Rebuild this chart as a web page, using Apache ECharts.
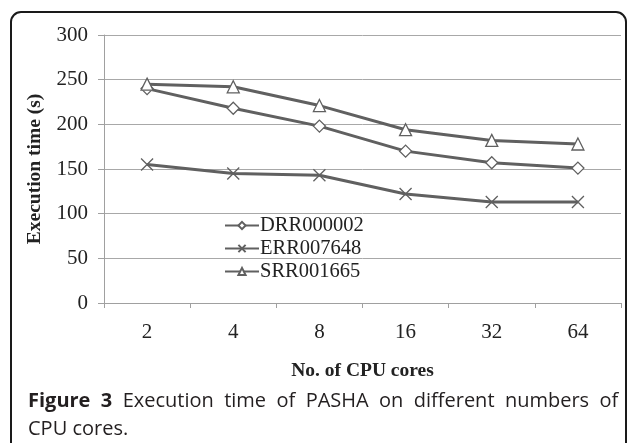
<!DOCTYPE html>
<html>
<head>
<meta charset="utf-8">
<script src="https://cdn.jsdelivr.net/npm/echarts@6/dist/echarts.min.js"></script>
<style>
  html, body { margin: 0; padding: 0; background: #fff; }
  #main { width: 628px; height: 443px; }
</style>
</head>
<body>
<div id="main"></div>
<script>
// cores on x axis, execution time in seconds
const cores = ['2', '4', '8', '16', '32', '64'];
const drr000002 = [240, 218, 198, 170, 157, 151];
const err007648 = [155, 145, 143, 122, 113, 113];
const srr001665 = [245, 242, 221, 194, 182, 178];
const yTicks = [0, 50, 100, 150, 200, 250, 300];

const lineGray = '#606060';
const serif = '"Liberation Serif", "Times New Roman", serif';
const sans = '"Open Sans", "Noto Sans", sans-serif';

function mkSeries(name, data, symbol) {
  return {
    name: name,
    type: 'line',
    data: data,
    symbol: symbol,
    symbolSize: 12,
    showAllSymbol: true,
    lineStyle: { color: lineGray, width: 3 },
    itemStyle: { color: '#fff', borderColor: lineGray, borderWidth: 1.3 },
    emphasis: { disabled: true },
    z: 3
  };
}

const myChart = echarts.init(document.getElementById('main'));
const option = {
  animation: false,
  backgroundColor: '#fff',
  grid: { left: 104, right: 7, top: 35, bottom: 140, containLabel: false },
  legend: {
    orient: 'vertical',
    left: 219,
    top: 210,
    itemGap: 2,
    itemWidth: 34,
    itemHeight: 9,
    textStyle: { fontFamily: serif, fontSize: 20.5, color: '#222', padding: [0, 0, 0, -4] },
    data: ['DRR000002', 'ERR007648', 'SRR001665']
  },
  xAxis: {
    type: 'category',
    data: cores,
    boundaryGap: true,
    name: 'No. of CPU cores',
    nameLocation: 'middle',
    nameGap: 58,
    nameTextStyle: { fontFamily: serif, fontSize: 19.5, fontWeight: 'bold', color: '#222' },
    axisLine: { lineStyle: { color: '#a0a0a0', width: 1 } },
    axisTick: { show: true, length: 5, lineStyle: { color: '#a0a0a0' } },
    axisLabel: { fontFamily: serif, fontSize: 21, color: '#222', margin: 19 }
  },
  yAxis: {
    type: 'value',
    min: yTicks[0],
    max: yTicks[yTicks.length - 1],
    interval: 50,
    name: 'Execution time (s)',
    nameLocation: 'middle',
    nameGap: 59,
    nameTextStyle: { fontFamily: serif, fontSize: 19.5, fontWeight: 'bold', color: '#222' },
    axisLine: { show: true, lineStyle: { color: '#a0a0a0', width: 1 } },
    axisTick: { show: true, length: 6, lineStyle: { color: '#a0a0a0' } },
    axisLabel: { fontFamily: serif, fontSize: 21, color: '#222', margin: 16 },
    splitLine: { show: true, lineStyle: { color: '#a8a8a8', width: 1 } }
  },
  graphic: [
    {
      type: 'rect',
      shape: { x: 11, y: 12, width: 615, height: 470, r: 10 },
      style: { fill: 'none', stroke: '#1a1a1a', lineWidth: 2 },
      silent: true
    },
    {
      type: 'text',
      left: 28,
      top: 387,
      style: {
        text: '{b|Figure  3}  Execution  time  of  PASHA  on  different  numbers  of\nCPU cores.',
        fontFamily: sans,
        fontSize: 20,
        lineHeight: 28,
        fill: '#231f20',
        rich: {
          b: { fontFamily: sans, fontSize: 20, fontWeight: 'bold', fill: '#231f20' }
        }
      },
      silent: true
    }
  ],
  series: [
    mkSeries('DRR000002', drr000002, 'diamond'),
    mkSeries('ERR007648', err007648, 'path://M0,0L10,10M10,0L0,10'),
    mkSeries('SRR001665', srr001665, 'triangle')
  ]
};
myChart.setOption(option, true);
</script>
</body>
</html>
